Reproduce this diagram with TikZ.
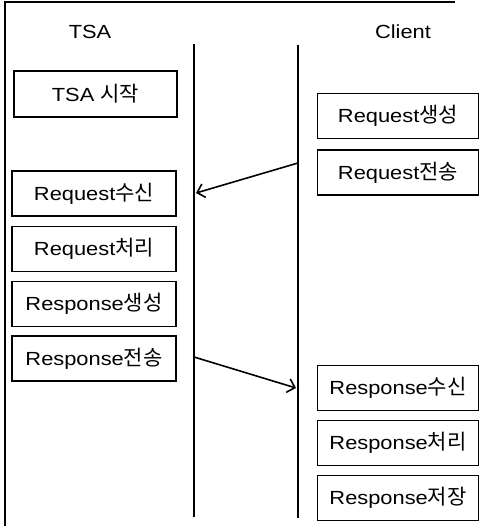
\documentclass[tikz,border=0pt]{standalone}
\usepackage{fontspec}
\setmainfont{Liberation Sans}[FakeStretch=1.15]
\newfontfamily\kr{Noto Sans CJK KR}
\newcommand\ko[1]{{\kr\fontsize{21}{22}\selectfont #1}}
\usetikzlibrary{arrows.meta}
\begin{document}
\begin{tikzpicture}[x=1pt,y=-1pt,
  txt/.style={font=\fontsize{19}{22}\selectfont, inner sep=0pt},
  box/.style={txt, draw, line width=1.3pt, minimum height=45pt},
  lbox/.style={box, minimum width=164pt},
  rbox/.style={box, minimum width=161pt},
  life/.style={line width=1.8pt},
  frame/.style={line width=1.5pt},
  msg/.style={line width=1.6pt, -{Straight Barb[length=7pt,width=14pt,line width=1.6pt]}}]
\useasboundingbox (0,0) rectangle (481,526);
% frame
\coordinate (f1) at (5,526);
\coordinate (f2) at (5,2);
\coordinate (f3) at (455,2);
\draw[frame] (f1) -- (f2) -- (f3);
% titles
\node[txt] (tsa) at (90,32) {TSA};
\node[txt] (client) at (403,32) {Client};
% lifelines
\coordinate (lt) at (194,44);
\coordinate (lb) at (194,517);
\coordinate (rt) at (298,45);
\coordinate (rb) at (298,518);
\draw[life] (lt) -- (lb);
\draw[life] (rt) -- (rb);
% left boxes
\node[lbox, minimum width=163pt, minimum height=46pt] (start) at (95.5,94) {TSA \ko{시작}};
\node[lbox] (reqrecv) at (94,193.5) {Request\ko{수신}};
\node[lbox] (reqproc) at (94,249) {Request\ko{처리}};
\node[lbox] (resgen) at (94,304) {Response\ko{생성}};
\node[lbox] (ressend) at (94,358.5) {Response\ko{전송}};
% right boxes
\node[rbox] (reqgen) at (398,116) {Request\ko{생성}};
\node[rbox] (reqsend) at (398,172.5) {Request\ko{전송}};
\node[rbox] (resrecv) at (398,388) {Response\ko{수신}};
\node[rbox] (resproc) at (398,443) {Response\ko{처리}};
\node[rbox] (resstore) at (398,498) {Response\ko{저장}};
% messages
\coordinate (m1a) at (298,163);
\coordinate (m1b) at (196,193);
\coordinate (m2a) at (194,357);
\coordinate (m2b) at (296,388);
\draw[msg] (m1a) -- (m1b);
\draw[msg] (m2a) -- (m2b);
\end{tikzpicture}
\end{document}
